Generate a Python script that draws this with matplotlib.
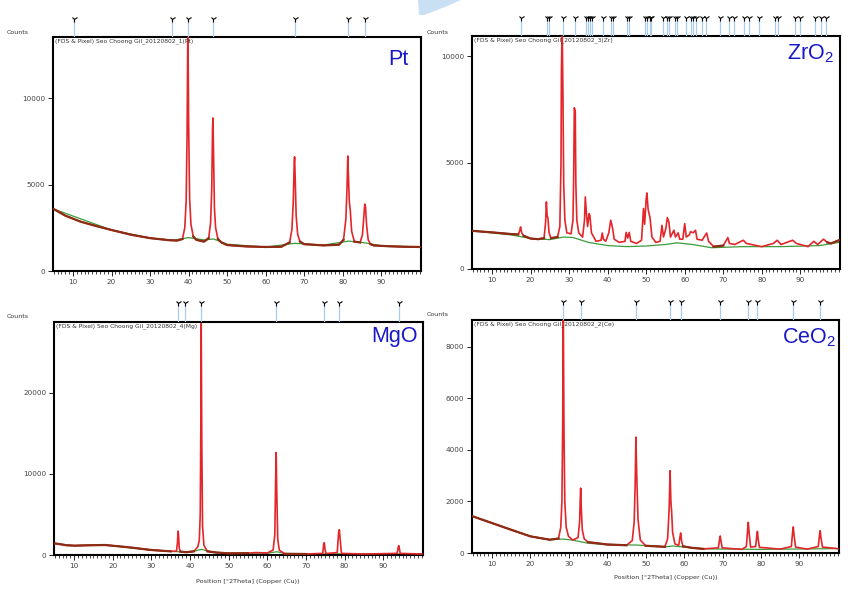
import numpy as np
import matplotlib
matplotlib.use("Agg")
import matplotlib.pyplot as plt
from matplotlib.patches import Polygon

plt.rcParams['font.family'] = ['DejaVu Sans']
plt.rcParams['mathtext.fontset'] = 'custom'
plt.rcParams['mathtext.rm'] = 'Liberation Sans'
plt.rcParams['mathtext.it'] = 'Liberation Sans'

W, H = 863, 596

# ---------------- data (2theta, counts) ----------------
pt_profile = [(5, 3580), (8, 3200), (12, 2850), (16, 2600), (20, 2370), (25, 2100), (30, 1900),
              (35, 1780), (37, 1760), (38.4, 1850), (39.0, 2500), (39.35, 4000), (39.6, 8000),
              (39.8, 14500), (40.0, 8500), (40.25, 4200), (40.6, 2700), (41.2, 2000), (42, 1800),
              (44, 1700), (45.2, 1900), (45.7, 2800), (46.0, 4800), (46.2, 8200), (46.3, 8850),
              (46.45, 7000), (46.7, 3600), (47.0, 2500), (47.6, 1850), (48.5, 1650), (50, 1500),
              (55, 1420), (60, 1390), (64, 1400), (66.2, 1650), (66.8, 2400), (67.15, 4000),
              (67.4, 6300), (67.5, 6600), (67.65, 5400), (67.9, 3200), (68.3, 2100), (68.9, 1700),
              (70, 1550), (75, 1480), (79, 1520), (80.2, 1800), (80.8, 3000), (81.1, 4800),
              (81.3, 6650), (81.45, 5600), (81.7, 4000), (81.95, 3500), (82.3, 2300), (83, 1700),
              (84.5, 1650), (85.1, 2100), (85.45, 3100), (85.7, 3870), (85.9, 3700), (86.2, 2600),
              (86.6, 1800), (87.2, 1550), (88, 1480), (92, 1430), (96, 1400), (100, 1390)]
pt_background = [(5, 3580), (20, 2370), (30, 1900), (36, 1780), (40, 1930), (44, 1800), (46.5, 1850),
                 (50, 1550), (60, 1380), (67.5, 1600), (75, 1500), (81.5, 1730), (86, 1620),
                 (90, 1450), (100, 1400)]
pt_refs = [10.3, 35.7, 39.8, 46.2, 67.5, 81.3, 85.7]

zr_profile = [(5, 1790), (10, 1720), (15, 1640), (16.8, 1620), (17.2, 1800), (17.4, 1975), (17.7, 1700),
              (18.2, 1560), (20, 1430), (22, 1400), (23.5, 1450), (23.9, 2200), (24.1, 3150), (24.3, 2500),
              (24.5, 2400), (24.8, 1700), (25.3, 1450), (27, 1500), (27.6, 2000), (27.9, 5000),
              (28.0, 9200), (28.2, 11500), (28.4, 8200), (28.6, 4000), (28.9, 2300), (29.4, 1700),
              (30.5, 1650), (31.0, 2300), (31.2, 4500), (31.35, 7570), (31.6, 7400), (31.75, 4000),
              (32.0, 2300), (32.5, 1700), (33.5, 1500), (34.0, 2300), (34.2, 3385), (34.5, 2600),
              (34.8, 2000), (35.2, 2600), (35.4, 2500), (35.8, 1700),
              (37, 1300), (38.3, 1350), (38.6, 1690), (38.9, 1400), (39.5, 1300), (40.3, 1700),
              (40.8, 2290), (41.3, 1900), (41.7, 1400), (43, 1250), (44.5, 1300), (44.8, 1720),
              (45.2, 1450), (45.6, 1720), (46, 1300), (47.5, 1200), (48.8, 1350), (49.3, 2840),
              (49.6, 2100), (50.0, 3300), (50.2, 3570), (50.5, 2800), (51, 2400), (51.5, 1500),
              (52.5, 1250), (53.6, 1300), (54.1, 2050), (54.5, 1500), (55.1, 1900), (55.5, 2415),
              (55.9, 2200), (56.3, 1500), (57.2, 1820), (57.6, 1500), (58.3, 1700), (58.7, 1400),
              (59.5, 1400), (60.0, 2130), (60.4, 1500), (61.2, 1600), (61.5, 1750), (62.2, 1700),
              (62.8, 1820), (63.2, 1400), (64.5, 1350), (65.7, 1690), (66.2, 1300), (67.5, 1050),
              (70, 1100), (71.2, 1475), (71.6, 1200), (73, 1150), (75.2, 1350), (76, 1200),
              (80, 1050), (83, 1200), (84, 1350), (85, 1150), (88, 1350), (89, 1200), (92, 1050),
              (93.5, 1300), (94.5, 1150), (96, 1400), (97, 1250), (98, 1200), (100, 1350)]
zr_background = [(5, 1790), (15, 1600), (20, 1430), (25, 1380), (28.5, 1500), (31, 1480), (35, 1250),
                 (40, 1100), (45, 1050), (50, 1080), (55, 1150), (58, 1230), (62, 1150), (67, 1000),
                 (75, 1050), (85, 1050), (95, 1100), (100, 1250)]
zr_refs = [17.5, 24.3, 24.8, 28.4, 31.5, 34.5, 34.8, 35.3, 35.95, 38.9, 40.8, 41.4, 45.1, 45.6,
           49.7, 50.3, 50.9, 51.3, 54.3, 55.5, 56.0, 57.4, 58.1, 60.3, 61.7, 62.2, 62.9, 64.5,
           65.5, 69.2, 71.4, 72.7, 75.3, 76.6, 79.4, 83.5, 84.2, 88.5, 89.8, 93.9, 95.4, 96.7]

mg_profile = [(5, 1430), (8, 1200), (10, 1150), (14, 1200), (18, 1230), (22, 1050), (25, 900), (30, 615),
              (35, 450), (36.5, 480), (36.75, 1500), (36.9, 2950), (37.05, 2400), (37.2, 900), (37.5, 420),
              (39, 350), (41, 450), (42.0, 1000), (42.4, 1800), (42.65, 5000), (42.8, 16000),
              (42.9, 28500), (43.05, 14000), (43.25, 3500), (43.6, 1200), (44.5, 450), (47, 300),
              (50, 205), (55, 220), (57, 300), (60, 250), (61.5, 600), (61.95, 2500), (62.15, 9000),
              (62.3, 12620), (62.45, 8000), (62.7, 2000), (63.1, 600), (64.5, 150), (70, 120),
              (74.35, 200), (74.6, 1300), (74.75, 1520), (74.95, 700), (75.2, 180), (78.1, 300),
              (78.45, 2700), (78.65, 3115), (78.85, 2000), (79.2, 200), (85, 120), (93.6, 200),
              (93.9, 1000), (94.05, 1150), (94.4, 200), (100, 120)]
mg_background = [(5, 1430), (10, 1150), (18, 1230), (25, 900), (30, 615), (35, 450), (40, 330),
                 (43, 700), (46, 300), (50, 205), (60, 220), (62.5, 400), (65, 140), (100, 140)]
mg_refs = [36.9, 38.7, 42.9, 62.3, 74.7, 78.6, 94.0]

ce_profile = [(5, 1420), (10, 1160), (15, 900), (20, 645), (25, 515), (27.3, 560), (27.9, 1000),
              (28.2, 2000), (28.4, 5000), (28.55, 9500), (28.75, 4500), (28.95, 2000), (29.3, 1000),
              (29.9, 650), (31, 500), (32.4, 600), (32.8, 1200), (32.95, 2000), (33.08, 2516),
              (33.25, 1700), (33.5, 900), (34.0, 550), (35, 420), (40, 330), (45, 300), (46.5, 480),
              (47.0, 1200), (47.25, 2600), (47.45, 4490), (47.55, 3750), (47.75, 2600), (48.0, 1300),
              (48.6, 500), (50, 280), (55, 240), (55.7, 550), (56.1, 1700), (56.35, 3190),
              (56.55, 2000), (56.75, 1600), (57.0, 800), (57.6, 350), (58.6, 300), (58.95, 650),
              (59.1, 775), (59.35, 450), (59.7, 260), (62, 200), (65, 160), (68.9, 200), (69.25, 550),
              (69.4, 660), (69.6, 450), (69.9, 200), (75, 140), (76.2, 250), (76.55, 950),
              (76.7, 1190), (76.9, 800), (77.3, 230), (78.6, 250), (78.95, 700), (79.07, 840),
              (79.3, 500), (79.6, 220), (85, 150), (87.9, 250), (88.25, 850), (88.4, 1010),
              (88.6, 700), (89.0, 230), (92, 150), (94.9, 250), (95.25, 720), (95.4, 865),
              (95.6, 600), (96.0, 230), (100, 170)]
ce_background = [(5, 1420), (15, 900), (20, 645), (25, 515), (28.5, 540), (31, 500), (35, 380),
                 (40, 320), (47.5, 310), (55, 240), (57, 270), (65, 160), (80, 140), (90, 155),
                 (100, 170)]
ce_refs = [28.55, 33.08, 47.48, 56.34, 59.09, 69.4, 76.7, 79.07, 88.4, 95.4]

panel_titles = ["(FDS & Pixel) Seo Choong Gil_20120802_1(Pt)",
                "(FDS & Pixel) Seo Choong Gil_20120802_3(Zr)",
                "(FDS & Pixel) Seo Choong Gil_20120802_4(Mg)",
                "(FDS & Pixel) Seo Choong Gil_20120802_2(Ce)"]
panel_labels = ["Pt", "ZrO$_2$", "MgO", "CeO$_2$"]
y_tops = [13530, 10940, 28700, 9030]
y_ticks = [[0, 5000, 10000], [0, 5000, 10000], [0, 10000, 20000], [0, 2000, 4000, 6000, 8000]]
x_ticks = [10, 20, 30, 40, 50, 60, 70, 80, 90]
x_label = "Position [°2Theta] (Copper (Cu))"

# ---------------- layout (pixels: left, top, right, bottom) ----------------
boxes = [(53, 37, 421, 271), (472, 36, 840, 269), (54, 322, 423, 555), (472, 320, 839, 553)]
marker_tops = [14, 13, 297, 297]
label_pos = [(408, 49), (834, 42), (418, 326), (836, 326)]
counts_pos = [(7, 33), (427, 32), (7, 317), (427, 315)]
xlabel_pos = [None, None, (248, 581), (666, 578)]

RED = '#E3262A'
BROWN = '#8C2C14'
GREEN = '#3C9C3C'
BLUE_REF = '#A9CDEB'

profiles = [pt_profile, zr_profile, mg_profile, ce_profile]
backgrounds = [pt_background, zr_background, mg_background, ce_background]
refs = [pt_refs, zr_refs, mg_refs, ce_refs]


def rect(l, t, r, b):
    return [l / W, 1 - b / H, (r - l) / W, (b - t) / H]


fig = plt.figure(figsize=(W / 100, H / 100), dpi=100)
fig.patch.set_facecolor('white')

# decorative swoosh at the top centre
sw = Polygon([(418 / W, 1), (461 / W, 1), (445 / W, 1 - 7 / H), (424 / W, 1 - 15 / H), (419 / W, 1 - 15 / H)],
             closed=True, transform=fig.transFigure, facecolor='#C9DFF3', edgecolor='none')
fig.patches.append(sw)

for i in range(4):
    l, t, r, b = boxes[i]
    ax = fig.add_axes(rect(l, t, r, b))
    px, py = np.array(profiles[i]).T
    bx, by = np.array(backgrounds[i]).T
    ax.plot(bx, by, color=GREEN, lw=0.9, zorder=2)
    ax.plot(px, py, color=RED, lw=1.2, zorder=3)
    bg_at = np.interp(px, bx, by)
    flat = np.where(py <= bg_at * 1.12, py, np.nan)
    ax.plot(px, flat, color=BROWN, lw=1.6, zorder=4)
    ax.set_xlim(4.8, 100.3)
    ax.set_ylim(0, y_tops[i])
    ax.set_xticks(x_ticks)
    ax.set_xticks(np.arange(5, 101, 1), minor=True)
    ax.set_yticks(y_ticks[i])
    ax.set_yticklabels([str(v) for v in y_ticks[i]])
    ax.tick_params(axis='both', which='major', direction='out', length=3.5, width=0.6,
                   labelsize=5.2, labelcolor='#444444', pad=2)
    ax.tick_params(axis='x', which='minor', direction='out', length=2.2, width=0.5)
    for s in ax.spines.values():
        s.set_linewidth(1.5)
        s.set_color('black')
    ax.text(0.006, 0.995, panel_titles[i], transform=ax.transAxes, ha='left', va='top',
            fontsize=4.3, color='#333333')

    # reference pattern sticks above the plot
    mt = marker_tops[i]
    mx = fig.add_axes(rect(l, mt, r, t))
    mx.set_xlim(4.8, 100.3)
    mx.set_ylim(0, 1)
    mx.axis('off')
    mx.vlines(refs[i], 0, 0.72, color=BLUE_REF, lw=0.9)
    mx.plot(refs[i], [0.78] * len(refs[i]), linestyle='none', marker='1', markersize=4.5,
            color='black', markeredgewidth=0.8)

    lx, ly = label_pos[i]
    fig.text(lx / W, 1 - ly / H, panel_labels[i], ha='right', va='top', fontsize=15.5,
             color='#1818C8', family='Liberation Sans')
    cx, cy = counts_pos[i]
    fig.text(cx / W, 1 - cy / H, "Counts", ha='left', va='center', fontsize=4.5, color='#333333')
    if xlabel_pos[i] is not None:
        xx, xy = xlabel_pos[i]
        fig.text(xx / W, 1 - xy / H, x_label, ha='center', va='center', fontsize=4.6, color='#333333')

fig.savefig('out.png', dpi=100, facecolor='white')
